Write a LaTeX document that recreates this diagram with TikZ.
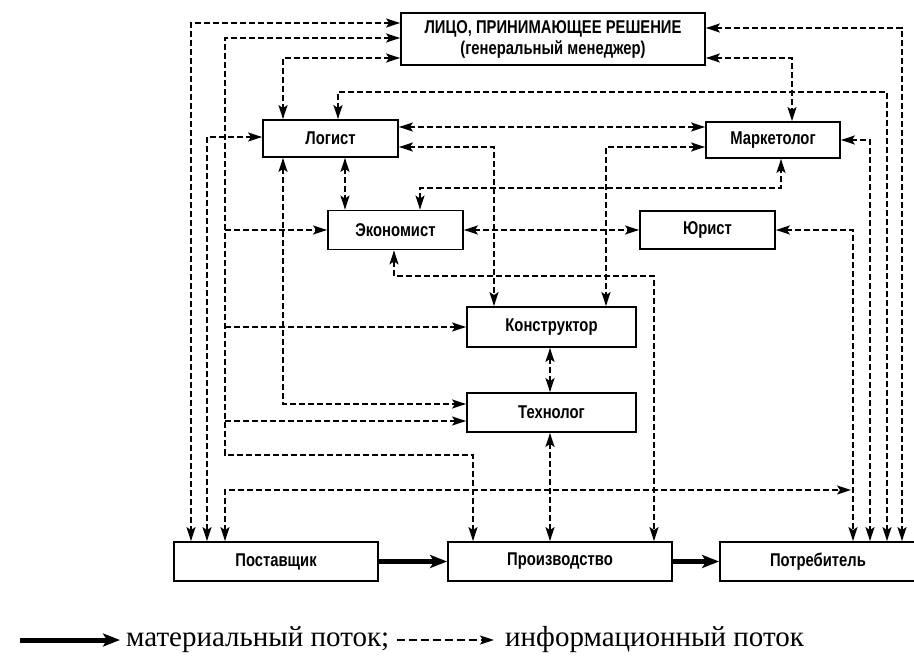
\documentclass[tikz,border=0pt]{standalone}
\usepackage{fontspec}
\setmainfont{Liberation Serif}
\newfontfamily\boxfont{Liberation Sans}[FakeStretch=0.8]
\usetikzlibrary{arrows.meta}

\begin{document}
\begin{tikzpicture}[x=1pt, y=-1pt,
    box/.style={draw, line width=1.8pt, inner sep=0pt, align=center,
      font=\boxfont\bfseries\fontsize{18.5}{21}\selectfont},
    info/.style={line width=1.7pt, dash pattern=on 6pt off 3pt,
      {Stealth[length=14pt,width=9pt,inset=3pt]}-{Stealth[length=14pt,width=9pt,inset=3pt]}},
    infoto/.style={info, -{Stealth[length=14pt,width=9pt,inset=3pt]}},
    mat/.style={line width=5pt, -{Stealth[length=17pt,width=13pt,inset=4pt]}},
    legend/.style={anchor=west, inner sep=2pt, font=\fontsize{29}{34}\selectfont}]
    \useasboundingbox (0,0) rectangle (914,664);

    % boxes
    \node[box, minimum width=304pt, minimum height=52pt] (lpr) at (553,39)
      {ЛИЦО, ПРИНИМАЮЩЕЕ РЕШЕНИЕ\\(генеральный менеджер)};
    \node[box, minimum width=135pt, minimum height=37pt] (logist) at (330.5,138.5) {Логист};
    \node[box, minimum width=134pt, minimum height=36pt] (marketolog) at (773,140) {Маркетолог};
    \node[box, minimum width=135pt, minimum height=39pt] (ekonomist) at (395.5,230) {Экономист};
    \node[box, minimum width=135pt, minimum height=38pt] (yurist) at (707.5,230) {Юрист};
    \node[box, minimum width=169pt, minimum height=40pt] (konstruktor) at (551.5,327) {Конструктор};
    \node[box, minimum width=169pt, minimum height=39pt] (tekhnolog) at (551.5,412.5) {Технолог};
    \node[box, minimum width=204pt, minimum height=39pt] (postavshchik) at (276,561.5) {Поставщик};
    \node[box, minimum width=224pt, minimum height=39pt] (proizvodstvo) at (560,561.5) {Производство};
    \node[box, minimum width=196pt, minimum height=39pt] (potrebitel) at (818,561.5) {Потребитель};

    % material flow
    \draw[mat] (postavshchik) -- (proizvodstvo);
    \draw[mat] (proizvodstvo) -- (potrebitel);

    % information flow, left side
    \draw[info] (lpr.west |- 0,23) -| (postavshchik.north -| 191,0);
    \draw[info] (logist.west |- 0,137) -| (postavshchik.north -| 207,0);
    \draw[info] (lpr.west |- 0,38) -| (225,455) -| (proizvodstvo.north -| 473,0);
    \draw[infoto] (ekonomist.west -| 225,0) -- (ekonomist.west);
    \draw[infoto] (konstruktor.west -| 225,0) -- (konstruktor.west);
    \draw[infoto] (225,421) -- (tekhnolog.west |- 0,421);
    \coordinate (kpotr) at (851,490);
    \draw[info] (postavshchik.north -| 225,0) |- (kpotr);
    \draw[info] (lpr.west |- 0,58) -| (logist.north -| 283,0);
    \draw[info] (logist.south -| 283,0) |- (tekhnolog.west |- 0,404);
    \draw[info] (logist.south -| 345,0) -- (ekonomist.north -| 345,0);

    % information flow, right side
    \draw[info] (lpr.east |- 0,28) -| (potrebitel.north -| 902,0);
    \draw[info] (lpr.east |- 0,58) -| (marketolog.north -| 792,0);
    \draw[info] (logist.north -| 338,0) |- (887,92) -- (potrebitel.north -| 887,0);
    \draw[info] (marketolog.east) -| (potrebitel.north -| 870,0);
    \draw[info] (yurist.east) -| (potrebitel.north -| 853,0);

    % information flow, middle
    \draw[info] (logist.east |- 0,127) -- (marketolog.west |- 0,127);
    \draw[info] (logist.east |- 0,147) -| (konstruktor.north -| 494,0);
    \draw[info] (marketolog.west |- 0,147) -| (konstruktor.north -| 606,0);
    \draw[info] (ekonomist.north -| 420,0) |- (781,188) -- (marketolog.south -| 781,0);
    \draw[info] (ekonomist) -- (yurist);
    \draw[info] (ekonomist.south -| 394,0) |- (654,276) -- (proizvodstvo.north -| 654,0);
    \draw[info] (konstruktor.south -| 550,0) -- (tekhnolog.north -| 550,0);
    \draw[info] (tekhnolog.south -| 550,0) -- (proizvodstvo.north -| 550,0);

    % legend
    \node[legend] (matlbl) at (124,640) {материальный поток;};
    \coordinate (matstart) at (20,640);
    \draw[mat, shorten >=4pt] (matstart) -- (matlbl.west);
    \node[legend] (infolbl) at (503,640) {информационный поток};
    \draw[infoto, dash pattern=on 8pt off 4pt] ([xshift=6pt]matlbl.east) -- ([xshift=-9pt]infolbl.west);
  \end{tikzpicture}
\end{document}
